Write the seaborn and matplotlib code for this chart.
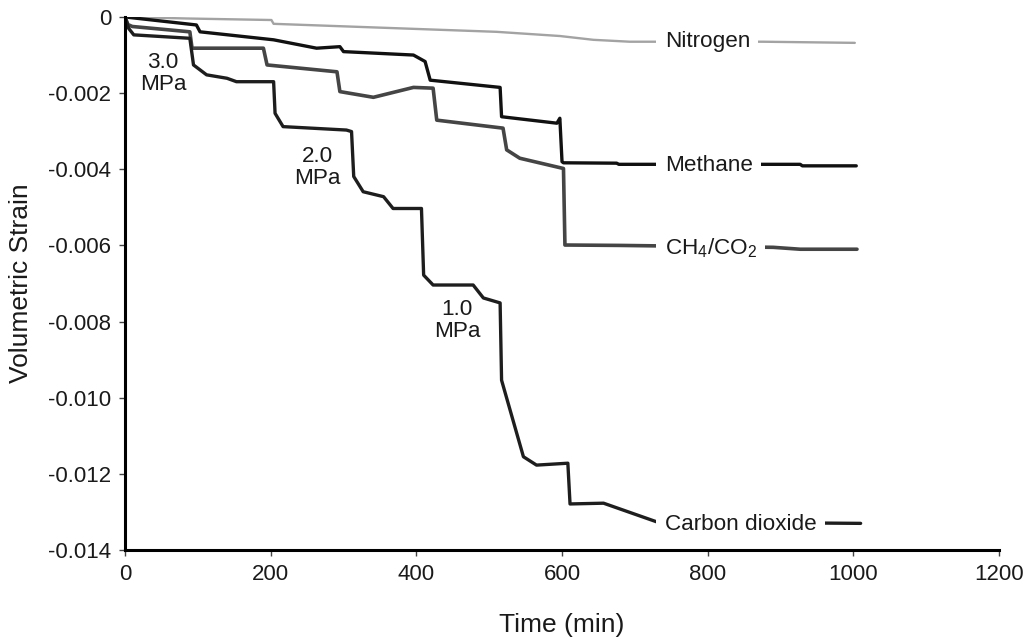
import numpy as np
import pandas as pd
import matplotlib
matplotlib.use("Agg")
import matplotlib.pyplot as plt
import seaborn as sns

# values (time in min, volumetric strain)
n2_time = [0, 85, 201, 204, 510, 597, 643, 693, 876, 1002]
n2_strain = [0, -0.00004, -0.00008, -0.00018, -0.00039, -0.0005, -0.0006, -0.00065, -0.00065, -0.00068]

ch4_time = [0, 98, 103, 204, 263, 295, 300, 396, 412, 419, 515, 517, 593, 597, 600, 602,
            675, 678, 927, 930, 1004]
ch4_strain = [0, -0.00021, -0.00039, -0.0006, -0.00082, -0.00078, -0.00091, -0.001, -0.00117,
              -0.00166, -0.00185, -0.00262, -0.00279, -0.00266, -0.0038, -0.00383, -0.00384,
              -0.00387, -0.00387, -0.00391, -0.00391]

mix_time = [0, 4, 10, 89, 92, 190, 195, 291, 295, 341, 396, 423, 428, 519, 524, 542, 602, 604,
            609, 680, 890, 927, 1005]
mix_strain = [0, -0.0002, -0.00025, -0.00039, -0.00082, -0.00082, -0.00126, -0.00144, -0.00196,
              -0.00211, -0.00185, -0.00187, -0.00271, -0.00292, -0.00349, -0.00371, -0.00398,
              -0.00599, -0.00599, -0.006, -0.00605, -0.0061, -0.0061]

co2_time = [0, 5, 12, 89, 94, 112, 140, 153, 204, 206, 217, 304, 311, 314, 327, 355, 368, 407,
            410, 423, 478, 492, 515, 517, 547, 565, 608, 611, 657, 730, 1010]
co2_strain = [0, -0.0003, -0.00047, -0.00056, -0.00126, -0.00152, -0.00161, -0.0017, -0.0017,
              -0.00253, -0.00288, -0.00297, -0.00301, -0.00419, -0.00459, -0.00472, -0.00503,
              -0.00503, -0.00678, -0.00704, -0.00704, -0.00738, -0.00751, -0.00954, -0.01155,
              -0.01177, -0.01172, -0.01279, -0.01277, -0.01326, -0.0133]

series_names = ["Nitrogen", "Methane", "CH$_4$/CO$_2$", "Carbon dioxide"]
label_y = [-0.00058, -0.00384, -0.0060, -0.01327]
pressure_labels = ["3.0\nMPa", "2.0\nMPa", "1.0\nMPa"]
pressure_x = [52, 264, 456]
pressure_y = [-0.00148, -0.00395, -0.00797]

yticks = [0, -0.002, -0.004, -0.006, -0.008, -0.010, -0.012, -0.014]
xticks = [0, 200, 400, 600, 800, 1000, 1200]

sns.set_style("ticks")
plt.rcParams['font.family'] = ['Liberation Sans', 'DejaVu Sans']
plt.rcParams['mathtext.default'] = 'regular'
plt.rcParams['axes.unicode_minus'] = False

fig = plt.figure(figsize=(10.24, 6.38), dpi=100)
ax = fig.add_axes([0.1221, 0.1379, 0.8535, 0.8355])

styles = [("#a3a3a3", 1.7), ("#111111", 2.4), ("#454545", 2.6), ("#1e1e1e", 2.4)]
all_data = [(n2_time, n2_strain), (ch4_time, ch4_strain), (mix_time, mix_strain), (co2_time, co2_strain)]

for (t, s), name, (col, lw) in zip(all_data, series_names, styles):
    df = pd.DataFrame({'Time': t, 'Strain': s})
    sns.lineplot(data=df, x='Time', y='Strain', ax=ax, color=col, linewidth=lw,
                 sort=False, estimator=None, zorder=2)

# series labels sit on the lines with a white box
for name, y in zip(series_names, label_y):
    ax.text(741, y, name, fontsize=16.2, color='#1a1a1a', ha='left', va='center_baseline',
            zorder=5, bbox=dict(facecolor='white', edgecolor='none', pad=6))

for txt, x, y in zip(pressure_labels, pressure_x, pressure_y):
    ax.text(x, y, txt, fontsize=16.2, color='#1a1a1a', ha='center', va='center',
            linespacing=1.05, zorder=5)

ax.set_xlim(0, 1200)
ax.set_ylim(-0.014, 0)
ax.set_xticks(xticks)
ax.set_yticks(yticks)
ax.set_yticklabels(["0" if v == 0 else "%.3f" % v for v in yticks])
ax.set_xlabel('Time (min)', fontsize=19, labelpad=20, color='#1a1a1a')
ax.set_ylabel('Volumetric Strain', fontsize=19, labelpad=11, color='#1a1a1a')
ax.tick_params(axis='both', labelsize=16, labelcolor='#1a1a1a', direction='out',
               length=4, width=1, color='#444444', pad=6)
sns.despine(ax=ax)
for sp in ['left', 'bottom']:
    ax.spines[sp].set_linewidth(2.2)
    ax.spines[sp].set_color('black')

fig.savefig('out.png', dpi=100)
